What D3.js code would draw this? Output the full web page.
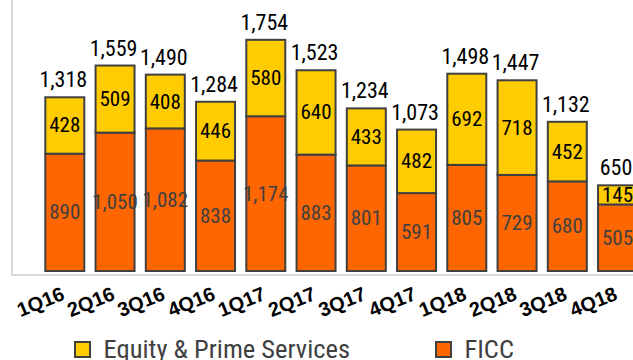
<!DOCTYPE html>
<html>
<head>
<meta charset="utf-8">
<script src="https://cdn.jsdelivr.net/npm/d3@7"></script>
<style>
  html, body { margin: 0; padding: 0; background: #fff; }
  svg { display: block; }
  .num { font-family: "Liberation Sans Narrow", "Arial Narrow", "Roboto Condensed", sans-serif; }
</style>
</head>
<body>
<svg id="chart" width="633" height="360"></svg>
<script>
// Quarterly revenue split, $M
const quarters = ["1Q16","2Q16","3Q16","4Q16","1Q17","2Q17","3Q17","4Q17","1Q18","2Q18","3Q18","4Q18"];
const ficc     = [890, 1050, 1082, 838, 1174, 883, 801, 591, 805, 729, 680, 505];
const equity   = [428, 509, 408, 446, 580, 640, 433, 482, 692, 718, 452, 145];
const totals   = [1318, 1559, 1490, 1284, 1754, 1523, 1234, 1073, 1498, 1447, 1132, 650];
const seriesNames = ["Equity & Prime Services", "FICC"];

const colEquity = "#FFCC00", colFicc = "#FF6600", colEdge = "#404040";
const fmt = d3.format(",");

const svg = d3.select("#chart");

const x = d3.scaleBand()
  .domain(quarters)
  .range([45.3, 637.05])
  .paddingInner(0.224)
  .paddingOuter(0);

const y = d3.scaleLinear().domain([0, 2000]).range([271, 7.4]);

// axis frame
svg.append("line").attr("x1", 12).attr("x2", 12).attr("y1", 0).attr("y2", 276)
  .attr("stroke", "#d9d9d9").attr("stroke-width", 2);
svg.append("line").attr("x1", 11).attr("x2", 633).attr("y1", 275).attr("y2", 275)
  .attr("stroke", "#d9d9d9").attr("stroke-width", 2);

const rows = quarters.map((q, i) => ({ q, ficc: ficc[i], equity: equity[i], total: totals[i] }));

const g = svg.append("g");

// FICC segment
g.selectAll("rect.ficc").data(rows).join("rect")
  .attr("class", "ficc")
  .attr("x", d => x(d.q))
  .attr("width", x.bandwidth())
  .attr("y", d => y(d.ficc))
  .attr("height", d => y(0) - y(d.ficc))
  .attr("fill", colFicc).attr("stroke", colEdge).attr("stroke-width", 2);

// Equity segment stacked on top
g.selectAll("rect.eq").data(rows).join("rect")
  .attr("class", "eq")
  .attr("x", d => x(d.q))
  .attr("width", x.bandwidth())
  .attr("y", d => y(d.ficc + d.equity))
  .attr("height", d => y(d.ficc) - y(d.ficc + d.equity))
  .attr("fill", colEquity).attr("stroke", colEdge).attr("stroke-width", 2);

// segment value labels
g.selectAll("text.fl").data(rows).join("text")
  .attr("class", "num fl")
  .attr("x", d => x(d.q) + x.bandwidth() / 2)
  .attr("y", d => (y(0) + y(d.ficc)) / 2)
  .attr("text-anchor", "middle").attr("dominant-baseline", "central")
  .attr("font-size", 21).attr("fill", "#404040")
  .text(d => fmt(d.ficc));

g.selectAll("text.el").data(rows).join("text")
  .attr("class", "num el")
  .attr("x", d => x(d.q) + x.bandwidth() / 2)
  .attr("y", d => (y(d.ficc) + y(d.ficc + d.equity)) / 2)
  .attr("text-anchor", "middle").attr("dominant-baseline", "central")
  .attr("font-size", 21).attr("fill", "#000")
  .text(d => fmt(d.equity));

// totals above bars
g.selectAll("text.tl").data(rows).join("text")
  .attr("class", "num tl")
  .attr("x", d => x(d.q) + x.bandwidth() / 2 - 1.5)
  .attr("y", d => y(d.total) - 10)
  .attr("text-anchor", "middle")
  .attr("font-size", 22).attr("fill", "#000")
  .text(d => fmt(d.total));

// category labels, slanted
g.selectAll("text.cat").data(quarters).join("text")
  .attr("class", "cat")
  .attr("transform", d => `translate(${x(d) + x.bandwidth() / 2 + 1},299) rotate(-22)`)
  .attr("text-anchor", "end")
  .attr("font-family", "Liberation Sans, Arial, sans-serif")
  .attr("font-weight", "bold")
  .attr("font-size", 20)
  .attr("fill", "#000")
  .text(d => d);

// legend
const legend = [
  { name: seriesNames[0], color: colEquity, x: 75 },
  { name: seriesNames[1], color: colFicc, x: 436 }
];
const lg = svg.append("g");
lg.selectAll("rect").data(legend).join("rect")
  .attr("x", d => d.x).attr("y", 342).attr("width", 15).attr("height", 15)
  .attr("fill", d => d.color).attr("stroke", colEdge).attr("stroke-width", 2);
lg.selectAll("text").data(legend).join("text")
  .attr("class", "num")
  .attr("x", d => d.x + 28.5).attr("y", 358)
  .attr("font-size", 26.5).attr("fill", "#404040")
  .text(d => d.name);
</script>
</body>
</html>
